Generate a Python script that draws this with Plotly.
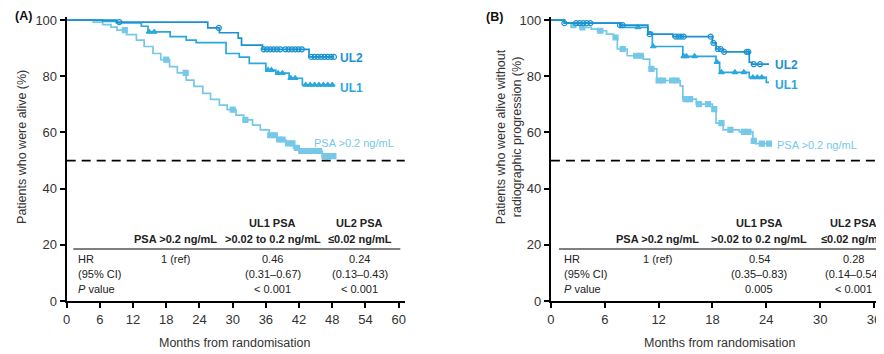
import plotly.graph_objects as go

# ---------------- DATA ----------------
# Panel A: overall survival (step points: months, %)
A_UL2_t = [0, 9.0, 25.5, 27.6, 31.0, 31.6, 35.4, 43.8, 48.3]
A_UL2_s = [100, 99.3, 97.2, 95.5, 93.6, 91.1, 89.6, 86.9, 86.9]
A_UL1_t = [0, 6.5, 9.0, 13.5, 14.7, 18.7, 21.6, 23.4, 28.8, 31.2, 33.0, 36.0, 37.8, 40.2, 42.6, 48.3]
A_UL1_s = [100, 99.5, 99.0, 97.8, 95.8, 94.1, 92.9, 92.0, 88.1, 86.8, 84.6, 82.2, 81.1, 79.3, 76.9, 76.9]
A_PSA_t = [0, 4.8, 6.5, 8.0, 9.1, 10.8, 12.6, 14.0, 15.6, 17.0, 18.6, 20.0, 21.6, 23.0, 24.6, 26.0,
           27.6, 29.0, 30.6, 32.0, 33.6, 35.0, 36.6, 38.0, 39.6, 41.0, 42.0, 46.2, 48.3]
A_PSA_s = [100, 99.3, 98.4, 97.5, 96.4, 94.8, 92.9, 90.6, 88.1, 85.9, 83.4, 81.2, 78.6, 76.4, 73.9, 71.8,
           69.7, 68.1, 66.2, 64.5, 62.6, 60.9, 59.0, 57.5, 56.1, 54.5, 53.4, 51.6, 51.6]
A_UL2_cens = [9.5, 27.5, 35.6, 36.2, 36.8, 37.4, 38.0, 38.6, 39.5, 40.1, 40.7, 41.3, 41.9, 42.5,
              44.2, 44.8, 45.4, 46.0, 46.6, 47.2, 47.8, 48.3]
A_UL1_cens = [14.9, 15.8, 36.4, 37.0, 38.2, 39.0, 40.5, 41.3, 43.2, 44.0, 44.8, 45.6, 46.4, 47.2, 48.0]
A_PSA_cens = [10.5, 18.0, 21.5, 30.0, 32.3, 36.8, 37.6, 38.4, 39.0, 40.0, 40.8, 41.6, 42.4, 43.2,
              44.0, 44.8, 45.6, 46.6, 47.4, 48.2]

# Panel B: radiographic progression-free survival
B_UL2_t = [0, 1.5, 7.7, 10.8, 13.6, 18.0, 18.4, 19.2, 22.1, 22.4, 24.3]
B_UL2_s = [100, 98.9, 98.2, 95.0, 94.1, 91.9, 89.7, 88.7, 85.0, 84.3, 84.3]
B_UL1_t = [0, 1.5, 7.7, 10.8, 11.3, 14.7, 18.4, 18.8, 22.1, 24.0, 24.3]
B_UL1_s = [100, 98.9, 97.4, 95.6, 90.6, 87.1, 85.0, 81.4, 79.6, 77.8, 77.8]
B_PSA_t = [0, 1.5, 2.5, 3.3, 4.5, 5.2, 6.2, 7.0, 7.4, 8.5, 10.3, 11.0, 11.8, 14.4, 14.7, 16.2,
           18.0, 18.4, 19.2, 21.0, 22.5, 22.8, 24.3]
B_PSA_s = [100, 98.9, 98.2, 97.4, 96.8, 96.2, 95.0, 93.8, 89.7, 87.3, 86.1, 82.6, 78.5, 76.6, 71.9, 70.1,
           68.3, 63.3, 60.9, 60.2, 57.0, 56.0, 56.0]
B_UL2_cens = [1.5, 2.8, 3.2, 3.6, 4.0, 4.4, 7.7, 8.0, 11.0, 13.9, 14.2, 14.5, 14.8, 17.8, 18.1,
              18.6, 18.9, 19.3, 21.8, 22.0, 22.6, 23.3]
B_UL1_cens = [9.7, 11.4, 14.8, 15.1, 16.0, 18.5, 19.0, 20.5, 21.5, 22.5, 23.0, 23.5]
B_PSA_cens = [2.5, 3.5, 5.5, 7.2, 8.0, 9.5, 10.0, 11.2, 12.0, 12.5, 13.5, 14.0, 15.0, 15.5, 16.5,
              17.5, 18.2, 19.0, 20.0, 21.5, 22.0, 22.6, 23.5, 24.3]

# Tables
COL_HEAD_1 = ["", "UL1 PSA", "UL2 PSA"]
COL_HEAD_2 = ["PSA >0.2 ng/mL", ">0.02 to 0.2 ng/mL", "≤0.02 ng/mL"]
ROW_LABELS = ["HR", "(95% CI)", "<i>P</i> value"]
A_HR = ["1 (ref)", "0.46", "0.24"]
A_CI = ["", "(0.31–0.67)", "(0.13–0.43)"]
A_P = ["", "< 0.001", "< 0.001"]
B_HR = ["1 (ref)", "0.54", "0.28"]
B_CI = ["", "(0.35–0.83)", "(0.14–0.54)"]
B_P = ["", "0.005", "< 0.001"]

X_TICKS_A = [0, 6, 12, 18, 24, 30, 36, 42, 48, 54, 60]
X_TICKS_B = [0, 6, 12, 18, 24, 30, 36]
Y_TICKS = [0, 20, 40, 60, 80, 100]

# ---------------- STYLE ----------------
C_UL2 = "#1B92CF"
C_UL1 = "#2AA8DD"
C_PSA = "#76C8E8"
FONT = "Liberation Sans, Arial, sans-serif"
TXT = "#333333"

# page body has an 8 px margin: figure is shrunk and all screen pixels shifted
OFF = 8
W, H = 884 - OFF, 354 - OFF
PLOT_TOP, PLOT_BOT = 17, 301  # screen px of plot area


def step_value(ts, ss, t):
    v = ss[0]
    for ti, si in zip(ts, ss):
        if ti <= t:
            v = si
    return v


fig = go.Figure()


def add_curve(ts, ss, cens, color, symbol, xa, ya):
    fig.add_trace(go.Scatter(x=ts, y=ss, mode="lines", line=dict(color=color, width=1.7, shape="hv"),
                             xaxis=xa, yaxis=ya, showlegend=False, hoverinfo="skip"))
    fig.add_trace(go.Scatter(x=cens, y=[step_value(ts, ss, c) for c in cens], mode="markers",
                             marker=dict(symbol=symbol, size=5, color=color, line=dict(color=color, width=1.2)),
                             xaxis=xa, yaxis=ya, showlegend=False, hoverinfo="skip"))


add_curve(A_PSA_t, A_PSA_s, A_PSA_cens, C_PSA, "square", "x", "y")
add_curve(A_UL1_t, A_UL1_s, A_UL1_cens, C_UL1, "triangle-up", "x", "y")
add_curve(A_UL2_t, A_UL2_s, A_UL2_cens, C_UL2, "circle-open", "x", "y")
add_curve(B_PSA_t, B_PSA_s, B_PSA_cens, C_PSA, "square", "x2", "y2")
add_curve(B_UL1_t, B_UL1_s, B_UL1_cens, C_UL1, "triangle-up", "x2", "y2")
add_curve(B_UL2_t, B_UL2_s, B_UL2_cens, C_UL2, "circle-open", "x2", "y2")

axis_common = dict(showline=True, linecolor="black", linewidth=2, ticks="outside", ticklen=5,
                   tickwidth=1.5, tickcolor="black", showgrid=False, zeroline=False,
                   tickfont=dict(family=FONT, size=13, color=TXT))

fig.update_layout(
    width=W, height=H,
    margin=dict(l=0, r=0, t=PLOT_TOP - OFF, b=H - (PLOT_BOT - OFF)),
    plot_bgcolor="white", paper_bgcolor="white",
    xaxis=dict(domain=[(63 - OFF) / W, (403 - OFF) / W], range=[0, 61.1], tickvals=X_TICKS_A,
               anchor="y", **axis_common),
    yaxis=dict(domain=[0, 1], range=[0, 101.1], tickvals=Y_TICKS, anchor="x", **axis_common),
    xaxis2=dict(domain=[(550 - OFF) / W, 1.0], range=[0, 37.0], tickvals=X_TICKS_B, anchor="y2",
                **axis_common),
    yaxis2=dict(domain=[0, 1], range=[0, 101.1], tickvals=Y_TICKS, anchor="x2", **axis_common),
)

# dashed median lines
for xr, yr in (("x domain", "y"), ("x2 domain", "y2")):
    fig.add_shape(type="line", xref=xr, yref=yr, x0=0, x1=1, y0=50, y1=50,
                  line=dict(color="black", width=1.7, dash="9px,6px"))

ann = []


def txt(x, y, s, xref="x", yref="y", size=11, color="#222222", bold=False, xanchor="center", **kw):
    if bold:
        s = "<b>" + s + "</b>"
    ann.append(dict(x=x, y=y, xref=xref, yref=yref, text=s, showarrow=False, xanchor=xanchor,
                    yanchor="middle", font=dict(family=FONT, size=size, color=color), **kw))


def table(xr, yr, xs, x_left, line_x0, line_x1, hr, ci, p):
    fig.add_shape(type="line", xref=xr, yref=yr, x0=line_x0, x1=line_x1, y0=18.5, y1=18.5,
                  line=dict(color="#555555", width=1.5))
    for i in range(3):
        if COL_HEAD_1[i]:
            txt(xs[i], 27.8, COL_HEAD_1[i], xr, yr, bold=True)
        txt(xs[i], 22.1, COL_HEAD_2[i], xr, yr, bold=True)
        txt(xs[i], 14.9, hr[i], xr, yr)
        if ci[i]:
            txt(xs[i], 9.6, ci[i], xr, yr)
        if p[i]:
            txt(xs[i], 4.3, p[i], xr, yr)
    for j, lab in enumerate(ROW_LABELS):
        txt(x_left, [14.9, 9.6, 4.3][j], lab, xr, yr, xanchor="left")


table("x", "y", [19.6, 37.2, 53.0], 1.6, 1.2, 60.3, A_HR, A_CI, A_P)
table("x2", "y2", [11.9, 23.2, 33.7], 1.2, 0.9, 40, B_HR, B_CI, B_P)

# curve labels
txt(49.0, 86.5, "UL2", "x", "y", size=12, color=C_UL2, bold=True, xanchor="left")
txt(49.0, 75.8, "UL1", "x", "y", size=12, color=C_UL1, bold=True, xanchor="left")
txt(44.3, 56.2, "PSA >0.2 ng/mL", "x", "y", size=11, color=C_PSA, xanchor="left")
txt(24.7, 84.0, "UL2", "x2", "y2", size=12, color=C_UL2, bold=True, xanchor="left")
txt(24.7, 76.9, "UL1", "x2", "y2", size=12, color=C_UL1, bold=True, xanchor="left")
txt(25.0, 55.4, "PSA >0.2 ng/mL", "x2", "y2", size=11, color=C_PSA, xanchor="left")


# axis titles and panel labels (screen pixels -> paper coords of plot area)
def px(xs):
    return (xs - OFF) / W


def py(ys):
    return (PLOT_BOT - ys) / (PLOT_BOT - PLOT_TOP)


txt(px(232), py(343), "Months from randomisation", "paper", "paper", size=12.5, color=TXT)
txt(px(720), py(343), "Months from randomisation", "paper", "paper", size=12.5, color=TXT)
txt(px(18), py(147), "Patients who were alive (%)", "paper", "paper", size=12.5, color=TXT, textangle=-90)
txt(px(508), py(137), "Patients who were alive without<br>radiographic progression (%)", "paper", "paper",
    size=12.5, color=TXT, textangle=-90)
txt(px(20), py(16), "(A)", "paper", "paper", size=12.5, color="#111111", bold=True)
txt(px(493), py(17), "(B)", "paper", "paper", size=12.5, color="#111111", bold=True)

fig.update_layout(annotations=ann)
fig.write_html("out.html")
